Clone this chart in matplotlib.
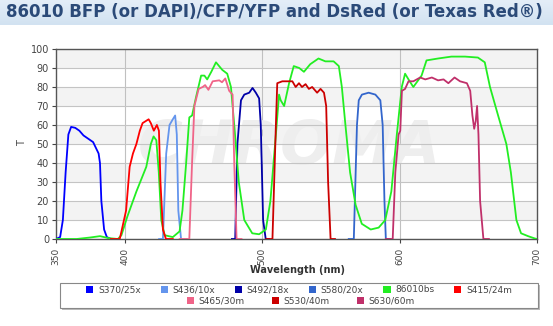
import matplotlib.pyplot as plt
from matplotlib.patches import Rectangle, Patch
import numpy as np

# filter curves: wavelength (nm), transmission (%)
s370_nm = [350, 353, 355, 357, 359, 361, 364, 367, 370, 374, 377, 379, 381, 382, 383, 385, 387, 390]
s370_t = [0, 1, 10, 35, 55, 59, 58.5, 57, 54.5, 52.5, 51, 48, 45, 40, 20, 5, 1, 0]

s436_nm = [425, 427.8, 430.2, 432.6, 435, 436.7, 437.9, 439, 441, 445]
s436_t = [0, 0, 45, 60, 63, 65, 55, 15, 0, 0]

s492_nm = [478, 480.4, 482, 484.6, 487, 490.6, 493, 495.4, 497.8, 499, 500.7, 502.6, 505]
s492_t = [0, 0, 50, 73, 76, 77, 79.5, 77, 74, 60, 10, 0, 0]

s580_nm = [563, 566.7, 569, 570.3, 572.6, 577.5, 582.4, 586, 587.7, 589, 590, 593]
s580_t = [0, 0, 60, 73, 76, 77, 76, 73, 60, 20, 0, 0]

bs_nm = [350, 365, 375, 382, 388, 395, 397.6, 402, 408.5, 415.7, 419, 421, 423, 424.8, 426.6, 429,
         435, 439.9, 442, 444.7, 447, 449, 452, 455.6, 458, 460, 463, 466.4, 471, 474.6, 477.3,
         479.7, 483, 487, 492.8, 497.8, 502.7, 506, 510, 512.3, 513.5, 516, 519.6, 523, 527,
         530.4, 535, 541, 546, 552, 555.8, 558, 560.6, 564, 568, 572.5, 579, 584.8, 589.6, 594,
         598, 601.6, 604, 606.5, 610, 616, 619.6, 628, 637.7, 647.6, 657, 662, 665.8, 671.7,
         677.7, 681, 685, 688.4, 693.5, 698.3, 700]
bs_t = [0, 0, 0.8, 1.5, 0.5, 0, 2, 12, 25, 38, 50, 54, 52, 35, 10, 2,
        1, 4, 15, 40, 64, 65, 75, 86, 86, 84, 88, 93, 89, 87, 80,
        60, 30, 10, 3, 2.5, 5, 20, 55, 76, 73, 70, 82, 91, 90,
        88, 92, 95, 93.5, 93.5, 91, 80, 60, 35, 18, 8, 5, 6, 10, 25,
        55, 80, 87, 84, 80, 86, 94, 95, 96, 96, 95.5, 93, 80, 65,
        50, 35, 10, 3, 1.5, 0.3, 0]

s415_nm = [390, 396.4, 401, 403.6, 406, 408.5, 411, 413, 417.4, 419, 421.2, 423.4, 424.9, 426, 427.8, 430, 435]
s415_t = [0, 0, 15, 38, 45, 50, 57, 61, 63, 61, 57, 60, 57, 30, 5, 0, 0]

s465_nm = [440, 447, 449, 450.7, 453.8, 456.7, 458.5, 460.9, 464, 468.8, 470.8, 473.2, 476, 478.5, 479.7, 481.4, 485]
s465_t = [0, 0, 40, 70, 79, 80, 81, 78.5, 83, 83.5, 82.5, 84.5, 78, 76, 40, 0, 0]

s530_nm = [503, 507.5, 510, 511, 514.7, 518, 522, 524.4, 526.8, 529, 531.6, 534, 536.4, 540, 542.5, 545,
           546.6, 548, 549.8, 553]
s530_t = [0, 0, 60, 82, 83, 83, 83, 80, 82, 80, 81.5, 79, 80, 77, 79, 77,
          70, 30, 0, 0]

s630_nm = [590, 595, 596.9, 599.3, 600.5, 601.7, 604, 606.5, 610, 615, 618.7, 623.5, 628, 632, 635.5,
           640, 644, 649, 651.4, 653, 654.3, 655.4, 656.4, 657.4, 658.6, 661, 665]
s630_t = [0, 0, 35, 55, 57, 78, 79, 83, 83, 85, 84, 85, 83.5, 84, 82,
          85, 83, 82, 78, 65, 58, 62, 70, 55, 20, 0, 0]

series = [
    ('S370/25x', s370_nm, s370_t, '#0000ff'),
    ('S436/10x', s436_nm, s436_t, '#6495ed'),
    ('S492/18x', s492_nm, s492_t, '#0000a8'),
    ('S580/20x', s580_nm, s580_t, '#3366cc'),
    ('86010bs', bs_nm, bs_t, '#22ee22'),
    ('S415/24m', s415_nm, s415_t, '#ff0000'),
    ('S465/30m', s465_nm, s465_t, '#f06488'),
    ('S530/40m', s530_nm, s530_t, '#cc0000'),
    ('S630/60m', s630_nm, s630_t, '#c0306a'),
]

title = '86010 BFP (or DAPI)/CFP/YFP and DsRed (or Texas Red\u00ae)'

fig = plt.figure(figsize=(5.53, 3.26), dpi=100)

# title band
grad = np.linspace(0, 1, 50).reshape(-1, 1)
band = fig.add_axes([0, 1 - 25 / 326, 1, 25 / 326])
band.imshow(grad, aspect='auto', cmap=plt.matplotlib.colors.LinearSegmentedColormap.from_list(
    'b', ['#e4eef8', '#d2e2f1']), extent=[0, 1, 0, 1])
band.axis('off')
fig.text(6 / 553, 1 - 12 / 326, title, fontsize=12, fontweight='bold', color='#2b4a78',
         va='center', ha='left', family='DejaVu Sans')

ax = fig.add_axes([56 / 553, 87 / 326, 481 / 553, 190 / 326])
ax.set_xlim(350, 700)
ax.set_ylim(0, 100)

# alternating bands
for y0 in range(10, 100, 20):
    ax.axhspan(y0, y0 + 10, color='#f3f3f3', zorder=0, lw=0)

ax.set_yticks(range(0, 101, 10))
ax.set_xticks([350, 400, 500, 600, 700])
ax.grid(axis='y', color='#c4c4c4', lw=0.8, zorder=1)
for xv in [400, 500, 600]:
    ax.axvline(xv, color='#c0c0c0', lw=0.8, zorder=1)

# faint watermark
ax.text(520, 48, 'CHROMA', fontsize=44, fontweight='bold', style='italic', color='#eeeeee',
        ha='center', va='center', zorder=1.5)

for name, nm, t, c in series:
    ax.plot(nm, t, color=c, lw=1.3, label=name, zorder=3)

ax.tick_params(axis='x', labelrotation=90, labelsize=6.5, colors='#444444', length=3)
ax.tick_params(axis='y', labelsize=7, colors='#444444', length=3, pad=2)
for sp in ax.spines.values():
    sp.set_color('#555555')
    sp.set_linewidth(1.0)

fig.text(22 / 553, 1 - 143 / 326, 'T', fontsize=7, color='#444444', rotation=90,
         ha='center', va='center')
fig.text(297 / 553, 1 - 270 / 326, 'Wavelength (nm)', fontsize=7, fontweight='bold',
         color='#333333', ha='center', va='center')

# legend box with shadow
lx0, lx1, ly0, ly1 = 60 / 553, 538 / 553, 1 - 308 / 326, 1 - 283 / 326
fig.patches.append(Rectangle((lx0 + 2 / 553, ly0 - 2 / 326), lx1 - lx0, ly1 - ly0,
                             transform=fig.transFigure, facecolor='#bbbbbb', edgecolor='none'))
fig.patches.append(Rectangle((lx0, ly0), lx1 - lx0, ly1 - ly0, transform=fig.transFigure,
                             facecolor='white', edgecolor='#888888', lw=0.8))

labels = [s[0] for s in series]
patches = [Patch(facecolor=s[3], edgecolor='none') for s in series]
fig.legend(patches[:6], labels[:6], ncol=6, loc='center', bbox_to_anchor=(299 / 553, 1 - 290 / 326),
           frameon=False, fontsize=6.5, handlelength=0.8, handleheight=0.8, columnspacing=2.2,
           handletextpad=0.5, labelcolor='#444444', borderpad=0)
fig.legend(patches[6:], labels[6:], ncol=3, loc='center', bbox_to_anchor=(301 / 553, 1 - 301 / 326),
           frameon=False, fontsize=6.5, handlelength=0.8, handleheight=0.8, columnspacing=3.0,
           handletextpad=0.5, labelcolor='#444444', borderpad=0)

fig.savefig('out.png', dpi=100)
